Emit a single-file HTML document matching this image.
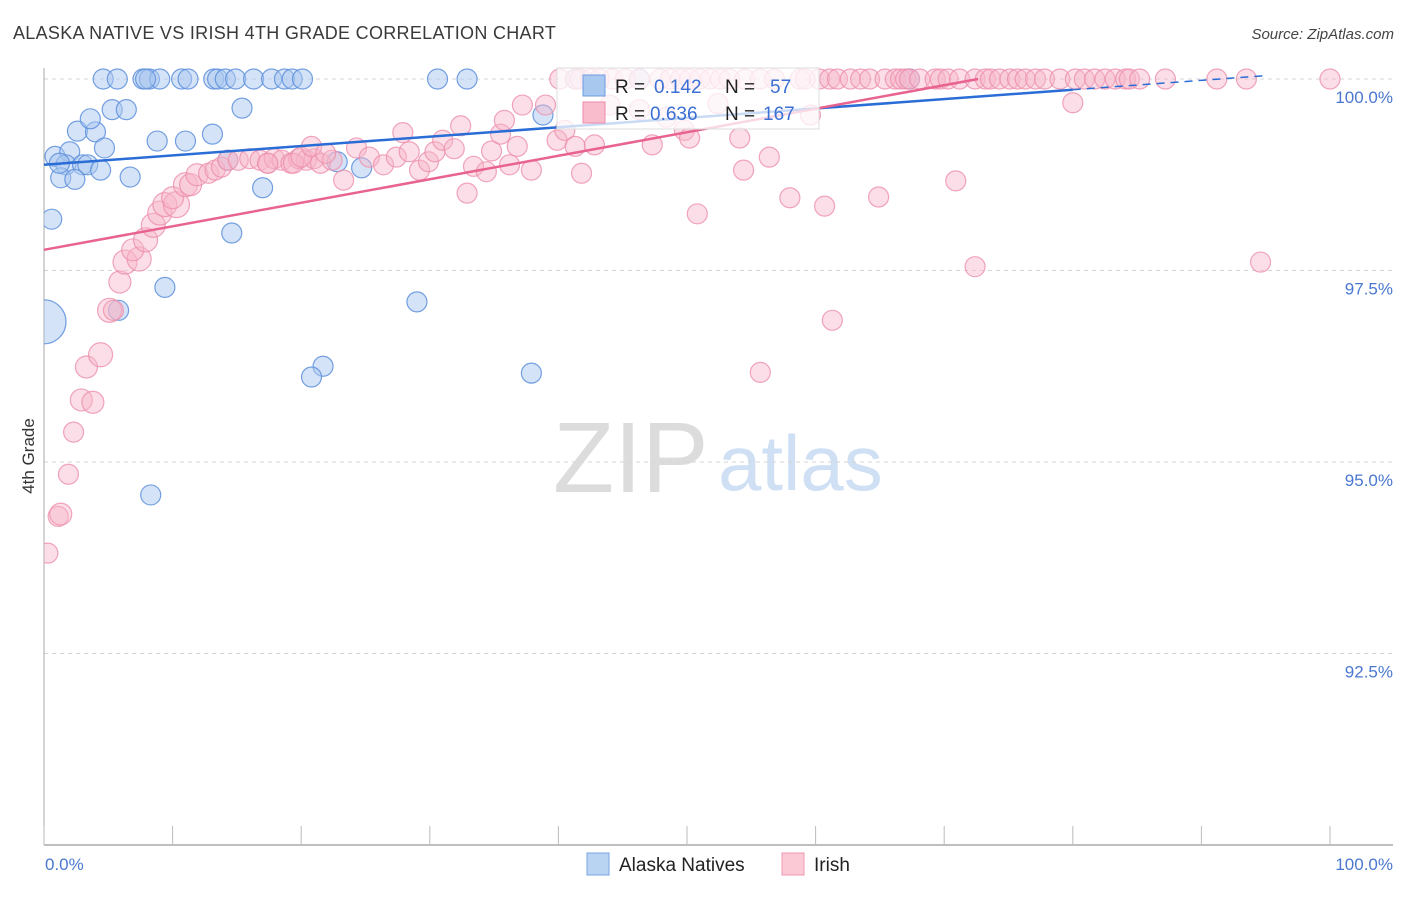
<!DOCTYPE html>
<html><head><meta charset="utf-8"><style>
body{margin:0;background:#fff;font-family:"Liberation Sans",sans-serif;}
svg text{font-family:"Liberation Sans",sans-serif;}
</style></head><body>
<svg id="chart" width="1406" height="892" viewBox="0 0 1406 892" xmlns="http://www.w3.org/2000/svg">
<defs><clipPath id="plotclip"><rect x="44" y="40" width="1360" height="806"/></clipPath></defs>
<text x="13" y="39" font-size="18" fill="#3a3a3a" letter-spacing="0.3">ALASKA NATIVE VS IRISH 4TH GRADE CORRELATION CHART</text>
<text x="1394" y="39" font-size="15" fill="#444" text-anchor="end" font-style="italic">Source: ZipAtlas.com</text>
<g>
<text x="553" y="492" font-size="100" fill="#dcdcdc" font-family="Liberation Serif, serif">ZIP</text>
<text x="718" y="490" font-size="78" fill="#cfe0f4">atlas</text>
</g>
<g id="grid"></g>
<g id="axes"></g>
<g id="blue" clip-path="url(#plotclip)"></g>
<g id="pink" clip-path="url(#plotclip)"></g>
<g id="trends"></g>
<text transform="translate(34,456) rotate(-90)" font-size="17" fill="#333" text-anchor="middle">4th Grade</text>
<g>
<rect x="557" y="68" width="262" height="61" fill="#fff" fill-opacity="0.75" stroke="#ddd"/>
<rect x="583" y="75" width="22" height="21" fill="#a9c8f0" stroke="#6d9be0"/>
<rect x="583" y="102" width="22" height="21" fill="#f8bccd" stroke="#ee8aa8"/>
<text x="615" y="93" font-size="19" fill="#222">R =</text><text x="654" y="93" font-size="19" fill="#3b6fd4">0.142</text>
<text x="725" y="93" font-size="19" fill="#222">N =</text><text x="770" y="93" font-size="19" fill="#3b6fd4">57</text>
<text x="615" y="120" font-size="19" fill="#222">R =</text><text x="650" y="120" font-size="19" fill="#3b6fd4">0.636</text>
<text x="725" y="120" font-size="19" fill="#222">N =</text><text x="763" y="120" font-size="19" fill="#3b6fd4">167</text>
</g>
<g>
<rect x="587" y="853" width="22" height="22" fill="#b9d3f3" stroke="#7aa6e3"/>
<text x="619" y="871" font-size="19" fill="#222">Alaska Natives</text>
<rect x="782" y="853" width="22" height="22" fill="#fbc9d6" stroke="#ef9ab3"/>
<text x="814" y="871" font-size="19" fill="#222">Irish</text>
</g>
</svg>
<script>
const yTicks=[100,97.5,95,92.5];
const yTickLabels=["100.0%","97.5%","95.0%","92.5%"];
const xTickLabels=["0.0%","100.0%"];
const blueX=[4.6,5.7,7.7,8.2,9.0,10.7,11.2,13.2,13.5,14.1,14.9,16.3,17.7,18.7,19.3,20.1,30.6,32.9,41.4,46.3,67.3,
5.3,6.4,15.4,2.6,4.0,3.6,8.8,11.0,13.1,0.86,2.0,4.7,1.7,3.0,3.4,4.4,1.3,2.4,6.7,17.0,0.6,14.6,9.4,5.8,29.0,21.7,20.8,37.9,8.3,0,22.8,24.7,38.8,14.3,7.9,1.2];
const blueY=[100,100,100,100,100,100,100,100,100,100,100,100,100,100,100,100,100,100,100,100,100,
99.6,99.6,99.62,99.32,99.31,99.48,99.19,99.19,99.28,98.99,99.05,99.1,98.88,98.88,98.88,98.81,98.71,98.69,98.72,98.58,98.17,97.99,97.28,96.98,97.09,96.25,96.11,96.16,94.57,96.83,98.92,98.84,99.53,98.94,100,98.9];
const blueR=[10,10,10,10,10,10,10,10,10,10,10,10,10,10,10,10,10,10,10,10,10,10,10,10,10,10,10,10,10,10,10,10,10,10,10,10,10,10,10,10,10,10,10,10,10,10,10,10,10,10,22,10,10,10,10,10,10];
const pinkX=[0.3,1.1,1.3,1.9,2.3,2.9,3.8,3.3,4.4,5.1,5.4,5.9,6.3,7.4,6.9,7.9,8.5,9.0,9.4,10.3,10.0,11.0,11.4,11.9,12.8,13.3,13.8,14.3,
15.1,16.0,16.8,17.4,17.9,18.5,19.2,19.8,20.4,21.0,21.5,22.4,17.4,19.4,20.0,
20.8,21.9,23.3,24.3,25.3,26.4,27.4,27.9,28.4,29.2,29.9,30.4,31.0,31.9,32.4,32.9,33.4,34.4,34.8,35.5,35.8,36.2,36.8,37.2,37.9,39.0,39.9,40.5,41.3,41.8,42.8,44.0,46.3,47.3,48.4,49.8,50.2,50.8,52.4,54.4,54.1,55.7,56.4,58,59.6,60.7,61.3,64.9,70.9,72.4,80,94.6,
40.1,41.3,41.7,42.5,43.2,44.2,45.2,46.3,47.9,48.7,49.5,50.2,51.0,51.8,52.6,53.3,54.5,55.7,56.8,58.8,59.2,60.3,61.1,61.7,62.7,63.5,64.2,65.4,66.2,66.6,67.0,67.3,68.1,69.3,69.7,70.3,71.2,72.4,73.2,73.6,74.3,75.1,75.7,76.3,77.1,77.8,79.0,80.2,80.9,81.7,82.5,83.3,84.1,84.4,85.2,87.2,91.2,93.5,100];
const pinkY=[93.81,94.29,94.32,94.84,95.39,95.81,95.78,96.24,96.4,96.98,96.98,97.35,97.61,97.65,97.77,97.9,98.09,98.25,98.36,98.36,98.45,98.62,98.62,98.75,98.77,98.81,98.85,98.94,
98.94,98.96,98.94,98.9,98.96,98.94,98.9,98.96,98.94,98.96,98.9,98.94,98.9,98.9,98.98,
99.12,99.03,98.68,99.1,98.98,98.88,98.98,99.3,99.05,98.81,98.92,99.05,99.2,99.09,99.39,98.51,98.86,98.79,99.06,99.28,99.46,98.88,99.12,99.66,98.81,99.66,99.2,99.33,99.12,98.77,99.14,99.66,99.6,99.14,99.5,99.33,99.23,98.24,99.68,98.81,99.23,96.17,98.98,98.45,99.53,98.34,96.85,98.46,98.67,97.55,99.69,97.61,
100,100,100,100,100,100,100,100,100,100,100,100,100,100,100,100,100,100,100,100,100,100,100,100,100,100,100,100,100,100,100,100,100,100,100,100,100,100,100,100,100,100,100,100,100,100,100,100,100,100,100,100,100,100,100,100,100,100,100];
const pinkR=[10,10,11,10,10,11,11,11,12,12,10,11,12,12,11,12,12,12,12,13,11,12,11,11,10,10,10,10];
const blueTrend=[98.88,0.01225]; // intercept, slope per %
const pinkTrend=[97.77,0.0307];
const X0=44,X1=1330,YT=79,YB=845,VMIN=90,VMAX=100;
const xs=v=>X0+(v/100)*(X1-X0);
const ys=v=>YB-(v-VMIN)/(VMAX-VMIN)*(YB-YT);
const NS="http://www.w3.org/2000/svg";
function mk(tag,parent,attrs){const e=document.createElementNS(NS,tag);for(const k in attrs)e.setAttribute(k,attrs[k]);parent.appendChild(e);return e;}
const grid=document.getElementById('grid'),axes=document.getElementById('axes');
yTicks.forEach((t,i)=>{
 const g=mk('line',grid,{x1:X0,x2:1393,y1:ys(t),y2:ys(t),stroke:'#d6d6d6','stroke-dasharray':'4,4'});
 
 
 const tx=mk('text',axes,{x:1393,y:ys(t)+24,'font-size':17,fill:'#4a78d0','text-anchor':'end'});
 tx.textContent=yTickLabels[i];
 
 
});
mk('line',axes,{x1:X0,x2:X0,y1:68,y2:YB,stroke:'#aaa'});
mk('line',axes,{x1:X0,x2:1393,y1:YB,y2:YB,stroke:'#aaa','stroke-width':1.5});
for(let i=0;i<=10;i++){const x=xs(i*10);const t=mk('line',axes,{x1:x,x2:x,y1:826,y2:YB,stroke:'#bbb'});
 
 }
const l0=mk('text',axes,{x:45,y:870,'font-size':17,fill:'#4a78d0'});l0.textContent=xTickLabels[0];


const l1=mk('text',axes,{x:1393,y:870,'font-size':17,fill:'#4a78d0','text-anchor':'end'});l1.textContent=xTickLabels[1];


const pg=document.getElementById('pink');
pinkX.forEach((v,i)=>{const c=mk('circle',pg,{cx:xs(v),cy:ys(pinkY[i]),r:pinkR[i]||10,fill:'#f7b6c9','fill-opacity':0.45,stroke:'#ec8fab','stroke-opacity':0.8,'stroke-width':1.2});
 
 });
const bg=document.getElementById('blue');
blueX.forEach((v,i)=>{const c=mk('circle',bg,{cx:xs(v),cy:ys(blueY[i]),r:blueR[i],fill:'#a9c8f0','fill-opacity':0.5,stroke:'#5d8fdc','stroke-opacity':0.85,'stroke-width':1.2});
 
 });
const tr=document.getElementById('trends');
const bl=mk('line',tr,{x1:xs(0),y1:ys(blueTrend[0]),x2:xs(80),y2:ys(blueTrend[0]+80*blueTrend[1]),stroke:'#2a6dd6','stroke-width':2.5});


const bd=mk('line',tr,{x1:xs(80),y1:ys(blueTrend[0]+80*blueTrend[1]),x2:xs(95),y2:ys(blueTrend[0]+95*blueTrend[1]),stroke:'#2a6dd6','stroke-width':1.5,'stroke-dasharray':'8,6'});


const pEnd=(100-pinkTrend[0])/pinkTrend[1];
const pl=mk('line',tr,{x1:xs(0),y1:ys(pinkTrend[0]),x2:xs(pEnd),y2:ys(100),stroke:'#e8638f','stroke-width':2.5});


</script>
</body></html>
